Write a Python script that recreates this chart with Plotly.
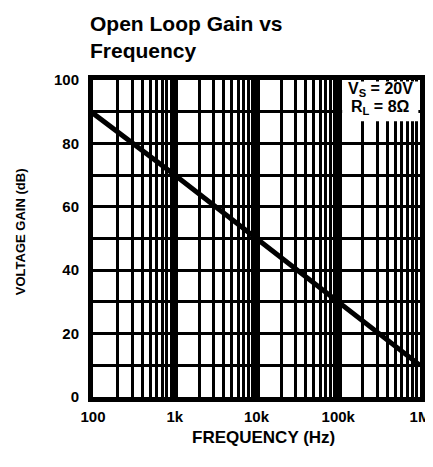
import plotly.graph_objects as go

# Data
frequency_hz = [100, 1000, 10000, 100000, 1000000]
voltage_gain_db = [89.5, 70, 50, 30, 10]

x_tick_vals = [100, 1000, 10000, 100000, 1000000]
x_tick_text = ["100", "1k", "10k", "100k", "1M"]
y_tick_vals = [0, 20, 40, 60, 80, 100]
y_tick_text = ["0", "20", "40", "60", "80", "100"]

SANS = "Liberation Sans, Arial, sans-serif"

fig = go.Figure()
fig.add_trace(go.Scatter(
    x=frequency_hz, y=voltage_gain_db, mode="lines",
    line=dict(color="black", width=5), showlegend=False,
))

fig.update_layout(
    width=433, height=467,
    margin=dict(l=85, r=21, t=72, b=78, autoexpand=False),
    paper_bgcolor="white", plot_bgcolor="white",
    xaxis=dict(
        type="log", range=[2, 6], automargin=False,
        tickvals=x_tick_vals, ticktext=x_tick_text,
        tickfont=dict(family=SANS, size=15, color="black", weight="bold"),
        showgrid=True, gridcolor="black", gridwidth=7,
        minor=dict(dtick="D1", showgrid=True, gridcolor="black", gridwidth=2.5, ticks=""),
        showline=True, linecolor="black", linewidth=5, mirror=True,
        ticks="", ticklabelstandoff=2, zeroline=False,
    ),
    yaxis=dict(
        range=[0, 100], automargin=False,
        tickvals=y_tick_vals, ticktext=y_tick_text,
        tickfont=dict(family=SANS, size=15, color="black", weight="bold"),
        showgrid=True, gridcolor="black", gridwidth=2.5,
        minor=dict(dtick=10, showgrid=True, gridcolor="black", gridwidth=2.5, ticks=""),
        showline=True, linecolor="black", linewidth=5, mirror=True,
        ticks="", ticklabelstandoff=6, zeroline=False,
    ),
    shapes=[dict(
        type="rect", xref="paper", yref="paper",
        x0=0.762, x1=0.995, y0=0.87, y1=0.995,
        fillcolor="white", line=dict(width=0), layer="above",
    )],
    annotations=[
        dict(text="<b>Open Loop Gain vs<br>Frequency</b>", xref="paper", yref="paper",
             x=(88 - 93) / 327, y=(397 - 10) / 317, xanchor="left", yanchor="top",
             align="left", showarrow=False,
             font=dict(family=SANS, size=21, color="black")),
        dict(text="<b>V<sub>S</sub> = 20V</b>", xref="paper", yref="paper",
             x=0.88, y=0.97, xanchor="center", yanchor="middle", showarrow=False,
             font=dict(family=SANS, size=16, color="black")),
        dict(text="<b>R<sub>L</sub> = 8Ω</b>", xref="paper", yref="paper",
             x=0.88, y=0.912, xanchor="center", yanchor="middle", showarrow=False,
             font=dict(family=SANS, size=16, color="black")),
        dict(text="<b>VOLTAGE GAIN (dB)</b>", xref="paper", yref="paper",
             x=(20 - 93) / 327, y=0.52, xanchor="center", yanchor="middle",
             textangle=-90, showarrow=False,
             font=dict(family=SANS, size=13, color="black")),
        dict(text="<b>FREQUENCY (Hz)</b>", xref="paper", yref="paper",
             x=0.52, y=(397 - 437) / 317, xanchor="center", yanchor="middle",
             showarrow=False,
             font=dict(family=SANS, size=17, color="black")),
    ],
)

fig.write_html("out.html")
